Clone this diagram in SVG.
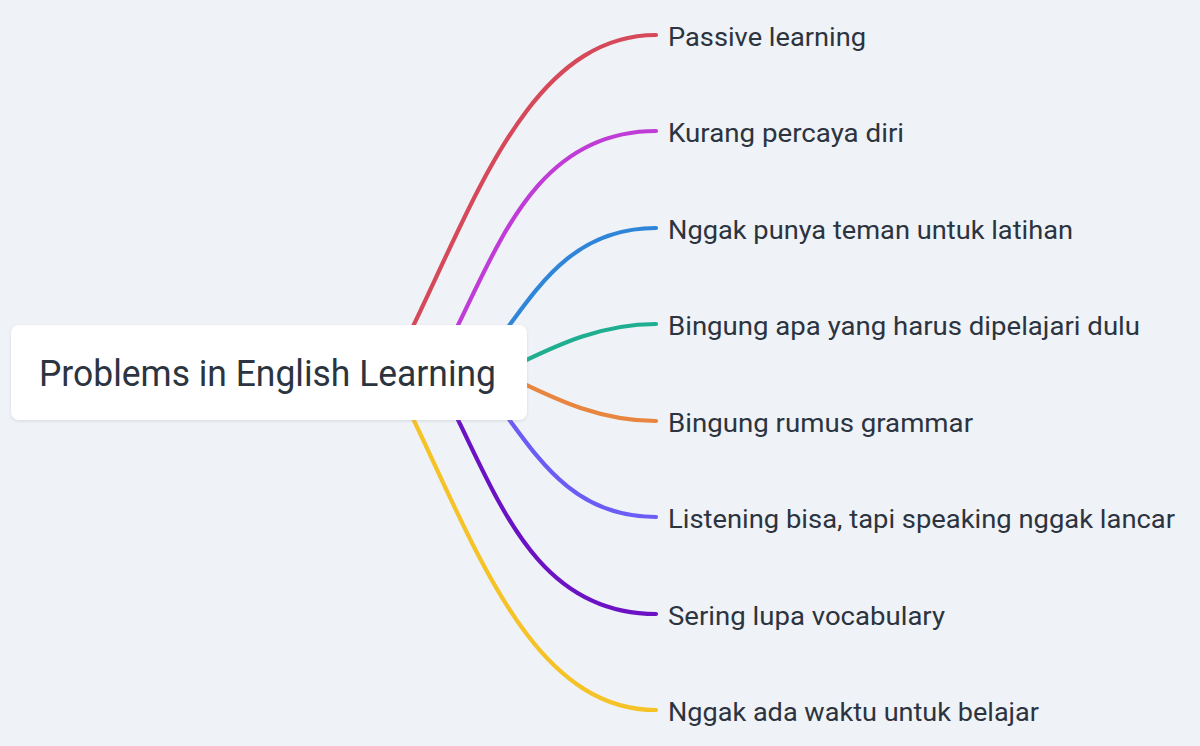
<svg xmlns="http://www.w3.org/2000/svg" width="1200" height="746" viewBox="0 0 1200 746">
  <style>
    .link { fill: none; stroke-width: 4.2; stroke-linecap: round; }
    .label { font-family: Roboto, "Noto Sans", "Liberation Sans", sans-serif; font-size: 26px; fill: #2c3440; }
    .title { font-family: Roboto, "Noto Sans", "Liberation Sans", sans-serif; font-size: 36px; fill: #2c3440; }
  </style>
  <defs>
    <filter id="shadow" x="-5%" y="-20%" width="110%" height="140%">
      <feDropShadow dx="0" dy="1" stdDeviation="1.5" flood-color="#8a97a8" flood-opacity="0.25"/>
    </filter>
  </defs>
  <rect x="0" y="0" width="1200" height="746" fill="#eff2f6"/>

  <g id="connectors">
    <path class="link" stroke="#d6495a" d="M399 355 C470 215 525 35 656 35"/>
    <path class="link" stroke="#c03cd6" d="M443 355 C495 257 530 131 656 131"/>
    <path class="link" stroke="#2f86d9" d="M491 350 C533 296 567 228 656 228"/>
    <path class="link" stroke="#1fae90" d="M500 372.5 C540 354.5 590 324 656 324"/>
    <path class="link" stroke="#e8853e" d="M500 372.5 C540 390.5 590 421 656 421"/>
    <path class="link" stroke="#6a5cf4" d="M491 395 C533 449 567 517 656 517"/>
    <path class="link" stroke="#6b12c4" d="M443 390 C495 488 530 614 656 614"/>
    <path class="link" stroke="#f5c227" d="M399 390 C470 530 525 710 656 710"/>
  </g>

  <g id="root">
    <rect x="11" y="325" width="516" height="95" rx="8" ry="8" fill="#ffffff" filter="url(#shadow)"/>
    <text class="title" x="39" y="386" textLength="457" lengthAdjust="spacingAndGlyphs">Problems in English Learning</text>
  </g>

  <g id="n1"><text class="label" x="668" y="46" textLength="198" lengthAdjust="spacingAndGlyphs">Passive learning</text></g>
  <g id="n2"><text class="label" x="668" y="142" textLength="236" lengthAdjust="spacingAndGlyphs">Kurang percaya diri</text></g>
  <g id="n3"><text class="label" x="668" y="239" textLength="405" lengthAdjust="spacingAndGlyphs">Nggak punya teman untuk latihan</text></g>
  <g id="n4"><text class="label" x="668" y="335" textLength="472" lengthAdjust="spacingAndGlyphs">Bingung apa yang harus dipelajari dulu</text></g>
  <g id="n5"><text class="label" x="668" y="432" textLength="305" lengthAdjust="spacingAndGlyphs">Bingung rumus grammar</text></g>
  <g id="n6"><text class="label" x="668" y="528" textLength="507" lengthAdjust="spacingAndGlyphs">Listening bisa, tapi speaking nggak lancar</text></g>
  <g id="n7"><text class="label" x="668" y="625" textLength="277" lengthAdjust="spacingAndGlyphs">Sering lupa vocabulary</text></g>
  <g id="n8"><text class="label" x="668" y="721" textLength="371" lengthAdjust="spacingAndGlyphs">Nggak ada waktu untuk belajar</text></g>
</svg>
